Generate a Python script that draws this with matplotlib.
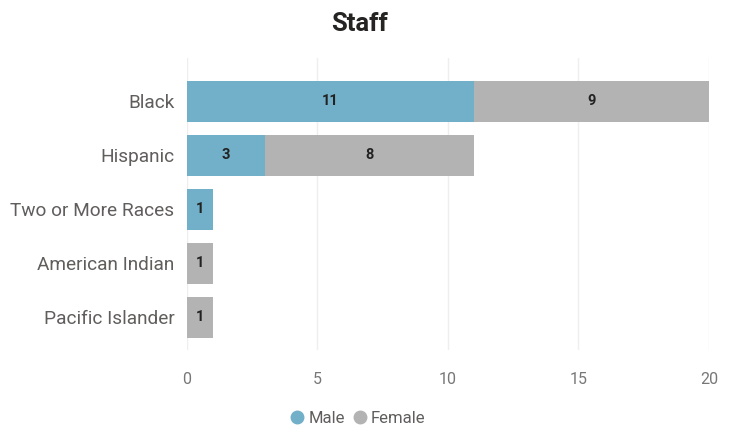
import matplotlib.pyplot as plt
from matplotlib.lines import Line2D

# data
groups = ['Black', 'Hispanic', 'Two or More Races', 'American Indian', 'Pacific Islander']
male = [11, 3, 1, 0, 0]
female = [9, 8, 0, 1, 1]
ticks = [0, 5, 10, 15, 20]

male_col = '#72B0C9'
female_col = '#B3B3B3'
font = ['Roboto', 'DejaVu Sans']

fig = plt.figure(figsize=(7.35, 4.32), dpi=100)
ax = fig.add_axes([0.2544, 0.19, 0.7102, 0.6757])

pos = list(range(len(groups)))
ax.barh(pos, male, height=0.76, color=male_col)
ax.barh(pos, female, left=male, height=0.76, color=female_col)

for i in pos:
    if male[i] > 0:
        ax.text(male[i] / 2, i, str(male[i]), ha='center', va='center',
                fontsize=10.5, fontweight='bold', family=font, color='#222222')
    if female[i] > 0:
        ax.text(male[i] + female[i] / 2, i, str(female[i]), ha='center', va='center',
                fontsize=10.5, fontweight='bold', family=font, color='#222222')

ax.set_ylim(4.61, -0.8)
ax.set_xlim(0, 20)
ax.set_xticks(ticks)
ax.set_xticklabels([str(t) for t in ticks], family=font, fontsize=11.5, color='#777777')
ax.set_yticks(pos)
ax.set_yticklabels(groups, family=font, fontsize=13.7, color='#605E5C')
ax.tick_params(length=0, pad=9)
ax.tick_params(axis='x', pad=16)
ax.grid(axis='x', color='#EEEEEE', linewidth=1)
ax.set_axisbelow(True)
for s in ax.spines.values():
    s.set_visible(False)

fig.text(0.4898, 0.945, 'Staff', ha='center', va='center', fontsize=18.5,
         fontweight='bold', family=font, color='#252423')

handles = [Line2D([], [], marker='o', linestyle='', markersize=9, color=male_col),
           Line2D([], [], marker='o', linestyle='', markersize=9, color=female_col)]
fig.legend(handles, ['Male', 'Female'], loc='center', bbox_to_anchor=(0.487, 0.032),
           ncol=2, frameon=False, handlelength=0.8, handletextpad=0.25, columnspacing=0.5,
           prop={'family': font, 'size': 12}, labelcolor='#605E5C')

fig.savefig('out.png')
